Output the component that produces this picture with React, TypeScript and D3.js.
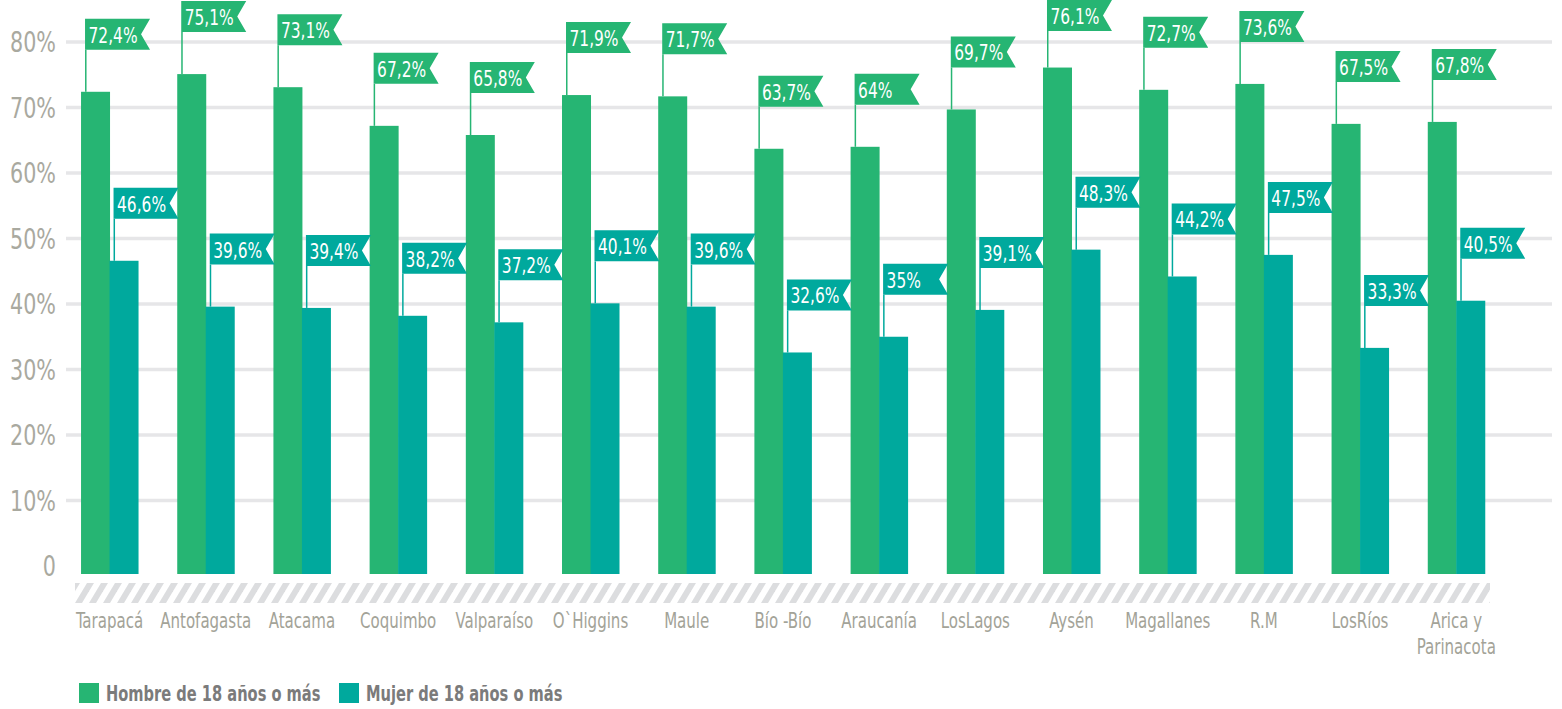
import React from "react";
import * as d3 from "d3";

const categories = [
  "Tarapacá", "Antofagasta", "Atacama", "Coquimbo", "Valparaíso", "O`Higgins", "Maule",
  "Bío -Bío", "Araucanía", "LosLagos", "Aysén", "Magallanes", "R.M", "LosRíos", "Arica y\nParinacota",
];
const hombre = [72.4, 75.1, 73.1, 67.2, 65.8, 71.9, 71.7, 63.7, 64, 69.7, 76.1, 72.7, 73.6, 67.5, 67.8];
const mujer = [46.6, 39.6, 39.4, 38.2, 37.2, 40.1, 39.6, 32.6, 35, 39.1, 48.3, 44.2, 47.5, 33.3, 40.5];
const seriesNames = ["Hombre de 18 años o más", "Mujer de 18 años o más"];
const tickValues = [0, 10, 20, 30, 40, 50, 60, 70, 80];
const tickLabels = ["0", "10%", "20%", "30%", "40%", "50%", "60%", "70%", "80%"];

const W = 1562;
const H = 709;
const COLORS = ["#26b573", "#00a99d"];
const FONT = "'DejaVu Sans Condensed', 'Liberation Sans Narrow', 'DejaVu Sans', sans-serif";
const FLAG_W = 65;
const FLAG_H = 31;
const FLAG_GAP = 42;
const NOTCH = 9;

const fmt = (v: number) => String(v).replace(".", ",") + "%";

function NarrowText(props: {
  x: number; y: number; sx: number; anchor?: string; size: number; fill: string; weight?: string;
  children: React.ReactNode; dy?: string;
}) {
  const { x, y, sx, anchor, size, fill, weight, children, dy } = props;
  return (
    <text transform={`translate(${x},${y}) scale(${sx},1)`} x={0} y={0} dy={dy} textAnchor={anchor || "start"}
      fontSize={size} fill={fill} fontWeight={weight || "normal"}>
      {children}
    </text>
  );
}

export default function App() {
  const y = d3.scaleLinear().domain([0, 80]).range([566, 42]);
  const x = d3.scaleBand<string>().domain(categories).range([61.8, 1504]).paddingInner(0.4075).paddingOuter(0.2);
  const x1 = d3.scaleBand<number>().domain([0, 1]).range([0, x.bandwidth()]);
  const baseY = y(0) + 8;
  const series = [hombre, mujer];

  const flagPath = (fx: number, fy: number) =>
    `M${fx},${fy}H${fx + FLAG_W}L${fx + FLAG_W - NOTCH},${fy + FLAG_H / 2}L${fx + FLAG_W},${fy + FLAG_H}H${fx}Z`;

  return (
    <svg width={W} height={H} style={{ position: "absolute", left: 0, top: 0, display: "block" }} fontFamily={FONT}>
      <defs>
        <pattern id="hatch" patternUnits="userSpaceOnUse" x={75} y={583} width={14} height={20}>
          <polygon points="0,20 7,20 19,0 12,0" fill="#dcdddf" />
          <polygon points="-14,20 -7,20 5,0 -2,0" fill="#dcdddf" />
        </pattern>
      </defs>
      <rect width={W} height={H} fill="#ffffff" />
      {/* gridlines */}
      {tickValues.filter((t) => t > 0).map((t) => (
        <line key={"g" + t} x1={66} x2={1552} y1={y(t)} y2={y(t)} stroke="#e6e6e8" strokeWidth={3.5} />
      ))}
      {tickValues.map((t, i) => (
        <NarrowText key={"t" + t} x={56} y={y(t)} dy="0.36em" anchor="end" size={28} sx={0.82} fill="#a9a99f">
          {tickLabels[i]}
        </NarrowText>
      ))}
      {/* hatched band */}
      <rect x={75} y={583} width={1415} height={20} fill="url(#hatch)" />
      {/* bars */}
      {categories.map((c, i) =>
        series.map((s, k) => (
          <rect key={c + k} x={(x(c) as number) + (x1(k) as number)} y={y(s[i])} width={x1.bandwidth() + 0.5}
            height={baseY - y(s[i])} fill={COLORS[k]} />
        ))
      )}
      {/* flags */}
      {categories.map((c, i) =>
        series.map((s, k) => {
          const bx = (x(c) as number) + (x1(k) as number);
          const top = y(s[i]);
          const fx = bx + 4;
          const fy = Math.max(0, top - FLAG_GAP - FLAG_H);
          return (
            <g key={"f" + c + k}>
              <line x1={fx + 0.75} x2={fx + 0.75} y1={fy + FLAG_H} y2={top} stroke={COLORS[k]} strokeWidth={1.5} />
              <path d={flagPath(fx, fy)} fill={COLORS[k]} />
              <NarrowText x={fx + 3.5} y={fy + 24} size={22} sx={0.78} fill="#ffffff">{fmt(s[i])}</NarrowText>
            </g>
          );
        })
      )}
      {/* category labels */}
      {categories.map((c) => {
        const cx = (x(c) as number) + x.bandwidth() / 2;
        const lines = c.split("\n");
        return (
          <g key={"c" + c}>
            {lines.map((l, j) => (
              <NarrowText key={j} x={cx} y={628 + j * 26} anchor="middle" size={22} sx={0.76} fill="#a3a398">{l}</NarrowText>
            ))}
          </g>
        );
      })}
      {/* legend */}
      {seriesNames.map((n, k) => {
        const lx = k === 0 ? 79 : 339;
        return (
          <g key={"l" + k}>
            <rect x={lx} y={683} width={20} height={20} fill={COLORS[k]} />
            <NarrowText x={lx + 27} y={701} size={22} sx={0.74} weight="bold" fill="#7b7b7b">{n}</NarrowText>
          </g>
        );
      })}
    </svg>
  );
}
